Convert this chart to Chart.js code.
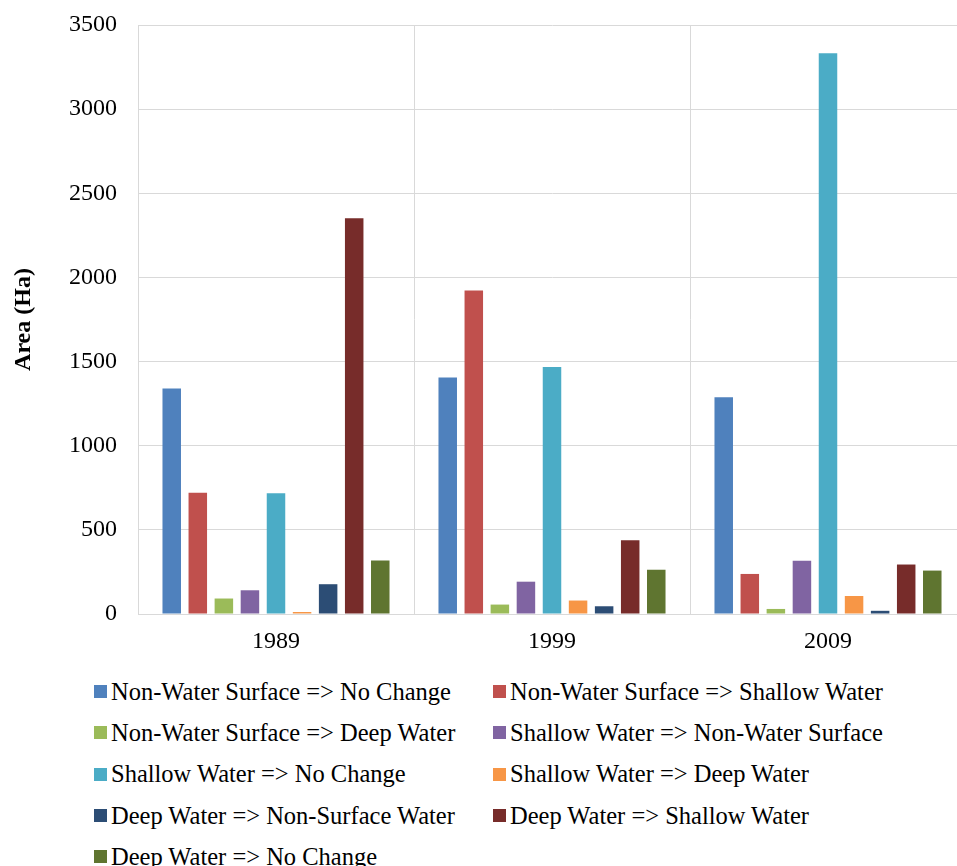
<!DOCTYPE html>
<html>
<head>
<meta charset="utf-8">
<script src="https://cdn.jsdelivr.net/npm/chart.js@4.4.1/dist/chart.umd.min.js"></script>
<style>
  html, body { margin: 0; padding: 0; background: #fff; overflow: hidden; width: 957px; height: 866px; }
  #wrap { position: absolute; left: 0; top: 0; width: 980px; height: 670px; }
  #legend {
    position: absolute; left: 94px; top: 671px;
    display: grid; grid-template-columns: 399px 460px; grid-auto-rows: 41.3px;
    font-family: "Liberation Serif", "Times New Roman", serif; font-size: 24.5px; color: #000;
  }
  #legend .item { display: flex; align-items: center; white-space: nowrap; }
  #legend .box { width: 13px; height: 13px; margin-right: 4px; flex: none; }
</style>
</head>
<body>
<div id="wrap"><canvas id="c" width="980" height="670"></canvas></div>
<div id="legend"></div>
<script>
// Years on the category axis
const years = ['1989', '1999', '2009'];

// Change classes (one series each)
const seriesNames = [
  'Non-Water Surface => No Change',
  'Non-Water Surface => Shallow Water',
  'Non-Water Surface => Deep Water',
  'Shallow Water => Non-Water Surface',
  'Shallow Water => No Change',
  'Shallow Water => Deep Water',
  'Deep Water => Non-Surface Water',
  'Deep Water => Shallow Water',
  'Deep Water => No Change'
];

// Area (Ha) per class for 1989, 1999, 2009
const nonWaterNoChange      = [1340, 1405, 1288];
const nonWaterToShallow     = [720, 1922, 238];
const nonWaterToDeep        = [92, 56, 30];
const shallowToNonWater     = [141, 192, 316];
const shallowNoChange       = [717, 1468, 3332];
const shallowToDeep         = [12, 80, 107];
const deepToNonSurface      = [177, 46, 19];
const deepToShallow         = [2351, 438, 294];
const deepNoChange          = [318, 263, 258];

const seriesValues = [
  nonWaterNoChange, nonWaterToShallow, nonWaterToDeep,
  shallowToNonWater, shallowNoChange, shallowToDeep,
  deepToNonSurface, deepToShallow, deepNoChange
];

// Y-axis tick range
const yMin = 0, yMax = 3500, yStep = 500;

const colors = ['#4F81BD', '#C0504D', '#9BBB59', '#8064A2', '#4BACC6',
                '#F79646', '#2C4D75', '#772C2A', '#5F7530'];

const serif = '"Liberation Serif", "Times New Roman", serif';

const datasets = seriesNames.map((name, i) => ({
  label: name,
  data: seriesValues[i],
  backgroundColor: colors[i],
  borderWidth: 0,
  categoryPercentage: 0.85,
  barPercentage: 0.71
}));

const chart = new Chart(document.getElementById('c'), {
  type: 'bar',
  data: { labels: years, datasets },
  options: {
    responsive: false,
    animation: false,
    layout: { padding: { left: 0, top: 25, right: 14, bottom: 0 } },
    plugins: { legend: { display: false }, tooltip: { enabled: false } },
    scales: {
      x: {
        grid: { color: '#d9d9d9', lineWidth: 1, drawTicks: false, offset: true },
        border: { color: '#d9d9d9' },
        ticks: { color: '#000', padding: 13, font: { family: serif, size: 24 } },
        afterFit: s => { s.height = 56; s.paddingLeft = 0; s.paddingRight = 0; }
      },
      y: {
        min: yMin, max: yMax,
        grid: { color: '#d9d9d9', lineWidth: 1, drawTicks: false },
        border: { color: '#d9d9d9' },
        ticks: {
          stepSize: yStep, color: '#000', padding: 21,
          font: { family: serif, size: 24 },
          callback: v => String(v)
        },
        title: {
          display: true, text: 'Area (Ha)', color: '#000',
          font: { family: serif, size: 24, weight: 'bold' },
          padding: { top: 9, bottom: 0 }
        },
        afterFit: s => { s.width = 138; s.paddingTop = 0; s.paddingBottom = 0; }
      }
    }
  }
});

// Two-column legend under the plot, built from the chart's datasets
const legend = document.getElementById('legend');
chart.data.datasets.forEach(ds => {
  const item = document.createElement('div');
  item.className = 'item';
  const box = document.createElement('span');
  box.className = 'box';
  box.style.background = ds.backgroundColor;
  const text = document.createElement('span');
  text.textContent = ds.label;
  item.appendChild(box);
  item.appendChild(text);
  legend.appendChild(item);
});
</script>
</body>
</html>
